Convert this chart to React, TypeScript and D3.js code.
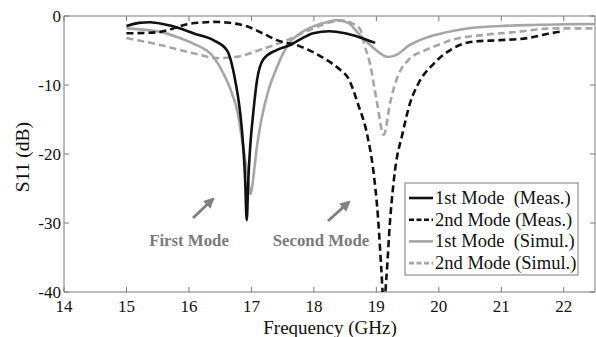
import React from "react";
import * as d3 from "d3";

const xTicks = [14, 15, 16, 17, 18, 19, 20, 21, 22];
const yTicks = [0, -10, -20, -30, -40];

const meas1F = [15.0, 15.2, 15.38, 15.6, 15.86, 16.1, 16.39, 16.61, 16.74, 16.82, 16.87, 16.9, 16.925, 16.95, 16.98, 17.03, 17.09, 17.19, 17.41, 17.62, 17.78, 17.99, 18.25, 18.5, 18.74, 18.98];
const meas1V = [-1.45, -1.0, -0.9, -1.2, -1.8, -2.6, -3.5, -5.0, -9.3, -14, -19, -23.8, -29.6, -23.8, -19, -14, -9.3, -6.3, -4.9, -4.2, -3.4, -2.5, -2.2, -2.5, -3.1, -3.9];

const meas2F = [15.0, 15.3, 15.54, 15.75, 15.97, 16.2, 16.39, 16.6, 16.93, 17.2, 17.41, 17.78, 18.0, 18.21, 18.42, 18.55, 18.7, 18.86, 18.95, 19.03, 19.08, 19.12, 19.16, 19.22, 19.3, 19.42, 19.54, 19.66, 19.92, 20.19, 20.56, 20.99, 21.42, 21.79, 22.0];
const meas2V = [-2.5, -2.45, -2.3, -1.8, -1.2, -0.95, -0.85, -0.95, -1.5, -2.6, -3.5, -4.4, -5.3, -6.4, -7.8, -9.0, -12.6, -17.5, -22.3, -29.6, -36.8, -42, -38, -29.6, -22.3, -17.0, -12.6, -10.0, -6.9, -4.9, -3.7, -3.5, -3.2, -2.5, -2.2];

const sim1F = [15.0, 15.54, 15.8, 16.07, 16.39, 16.55, 16.68, 16.78, 16.86, 16.93, 16.99, 17.03, 17.08, 17.14, 17.25, 17.41, 17.6, 17.8, 17.99, 18.2, 18.37, 18.55, 18.7, 18.95, 19.19, 19.35, 19.5, 19.7, 19.92, 20.2, 20.46, 20.99, 21.5, 22.06, 22.5];
const sim1V = [-1.8, -2.3, -3.0, -4.0, -5.9, -8.3, -11, -14, -18.5, -22.5, -25.8, -23.5, -19.5, -16, -11.5, -7.4, -4.0, -2.4, -1.5, -0.9, -0.6, -1.0, -2.4, -4.6, -5.95, -5.5, -4.4, -3.5, -2.8, -2.2, -1.8, -1.45, -1.3, -1.2, -1.15];

const sim2F = [15.0, 15.54, 16.07, 16.45, 16.77, 17.14, 17.57, 17.94, 18.31, 18.45, 18.6, 18.74, 18.8, 18.9, 19.0, 19.12, 19.22, 19.34, 19.5, 19.77, 20.05, 20.19, 20.72, 21.26, 21.79, 22.5];
const sim2V = [-3.2, -4.2, -5.4, -6.1, -5.9, -4.9, -3.5, -2.0, -0.8, -0.65, -1.0, -1.9, -3.9, -7.0, -12.0, -17.2, -12.6, -8.8, -6.5, -5.0, -4.0, -3.5, -2.75, -2.3, -1.8, -1.8];

const legendLabels = ["1st Mode  (Meas.)", "2nd Mode (Meas.)", "1st Mode  (Simul.)", "2nd Mode (Simul.)"];

const W = 596;
const H = 337;
const left = 64;
const right = 595;
const top = 16;
const bottom = 292;

const BLACK = "#111111";
const GRAY = "#a6a6a6";
const AXIS = "#7a7a7a";
const SERIF = "'Liberation Serif', 'Times New Roman', serif";

export default function App() {
  const x = d3.scaleLinear().domain([14, 22.5]).range([left, right]);
  const y = d3.scaleLinear().domain([-40, 0]).range([bottom, top]);
  const line = d3
    .line<[number, number]>()
    .x((d) => x(d[0]))
    .y((d) => y(d[1]))
    .curve(d3.curveMonotoneX);
  const zip = (f: number[], v: number[]) => f.map((ff, i) => [ff, v[i]] as [number, number]);

  const series = [
    { d: zip(meas1F, meas1V), color: BLACK, dash: "none" },
    { d: zip(meas2F, meas2V), color: BLACK, dash: "7,4" },
    { d: zip(sim1F, sim1V), color: GRAY, dash: "none" },
    { d: zip(sim2F, sim2V), color: GRAY, dash: "7,4" },
  ];

  const legX = 405;
  const legY = 183;
  const legW = 173;
  const legH = 92;

  return (
    <svg width={W} height={H} style={{ position: "absolute", left: 0, top: 0, background: "#fff" }}>
      <defs>
        <clipPath id="plotclip">
          <rect x={left} y={top} width={right - left} height={bottom - top} />
        </clipPath>
        <marker id="arr" viewBox="0 0 10 10" refX="8" refY="5" markerWidth="3.6" markerHeight="3.6" orient="auto">
          <path d="M0,0 L10,5 L0,10 z" fill="#808080" />
        </marker>
      </defs>
      <rect x={0} y={0} width={W} height={H} fill="#fff" />
      <g stroke={AXIS} strokeWidth={1} fill="none">
        <line x1={left} y1={top} x2={right} y2={top} />
        <line x1={left} y1={bottom} x2={right} y2={bottom} />
        <line x1={left} y1={top} x2={left} y2={bottom} />
        <line x1={right} y1={top} x2={right} y2={bottom} />
        {xTicks.map((t) => (
          <g key={"xt" + t}>
            <line x1={x(t)} y1={bottom} x2={x(t)} y2={bottom - 5} />
            <line x1={x(t)} y1={top} x2={x(t)} y2={top + 5} />
          </g>
        ))}
        {yTicks.map((t) => (
          <g key={"yt" + t}>
            <line x1={left} y1={y(t)} x2={left + 5} y2={y(t)} />
            <line x1={right} y1={y(t)} x2={right - 5} y2={y(t)} />
          </g>
        ))}
      </g>
      <g fontFamily={SERIF} fontSize={17} fill="#111">
        {xTicks.map((t) => (
          <text key={"xl" + t} x={x(t)} y={311.5} textAnchor="middle">
            {t}
          </text>
        ))}
        {yTicks.map((t) => (
          <text key={"yl" + t} x={left - 3} y={y(t) + 6} textAnchor="end">
            {t}
          </text>
        ))}
      </g>
      <text x={330} y={333.5} textAnchor="middle" fontFamily={SERIF} fontSize={19} fill="#111">
        Frequency (GHz)
      </text>
      <text
        transform={`translate(29,157) rotate(-90)`}
        textAnchor="middle"
        fontFamily={SERIF}
        fontSize={19.5}
        fill="#111"
      >
        S11 (dB)
      </text>
      <g clipPath="url(#plotclip)" fill="none">
        {series
          .slice()
          .reverse()
          .map((s, i) => (
            <path
              key={"s" + i}
              d={line(s.d) || ""}
              stroke={s.color}
              strokeWidth={2.6}
              strokeDasharray={s.dash}
              strokeLinejoin="round"
            />
          ))}
      </g>
      <g stroke="#808080" strokeWidth={3} fill="none">
        <line x1={193} y1={218} x2={213} y2={199} markerEnd="url(#arr)" />
        <line x1={328} y1={221} x2={349} y2={202} markerEnd="url(#arr)" />
      </g>
      <g fontFamily={SERIF} fontSize={16.8} fontWeight="bold" fill="#7a7a7a">
        <text x={189} y={246} textAnchor="middle">First Mode</text>
        <text x={321} y={246} textAnchor="middle">Second Mode</text>
      </g>
      <rect x={legX} y={legY} width={legW} height={legH} fill="#fff" stroke={AXIS} strokeWidth={1} />
      {legendLabels.map((lab, i) => {
        const s = series[i];
        const yy = legY + 15 + i * 21.7;
        return (
          <g key={"lg" + i}>
            <line x1={legX + 4} y1={yy} x2={legX + 28} y2={yy} stroke={s.color} strokeWidth={2.6} strokeDasharray={s.dash === "none" ? "none" : "5,2.5"} />
            <text x={legX + 30} y={yy + 6} fontFamily={SERIF} fontSize={18.5} fill="#111" style={{ whiteSpace: "pre" }}>
              {lab}
            </text>
          </g>
        );
      })}
    </svg>
  );
}
